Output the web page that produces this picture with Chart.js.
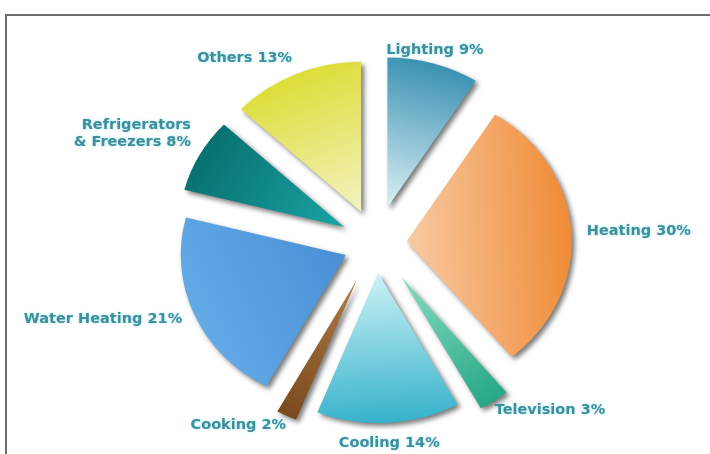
<!DOCTYPE html>
<html>
<head>
<meta charset="utf-8">
<script src="https://cdn.jsdelivr.net/npm/chart.js@4.4.0/dist/chart.umd.min.js"></script>
<style>
  html, body { margin: 0; padding: 0; background: #fff; overflow: hidden; }
  #wrap { position: relative; width: 710px; height: 454px; overflow: hidden; }
  #frame { position: absolute; left: 5px; top: 14px; right: -4px; bottom: -4px;
           border-left: 2px solid #6d6d6d; border-top: 2px solid #6d6d6d; }
  #energyChart { position: absolute; left: 0; top: 0; }
</style>
</head>
<body>
<div id="wrap">
  <div id="frame"></div>
  <canvas id="energyChart" width="710" height="454"></canvas>
</div>
<script>
// slices clockwise from 12 o'clock
const categories = ['Lighting', 'Heating', 'Television', 'Cooling', 'Cooking',
  'Water Heating', ['Refrigerators', '& Freezers'], 'Others'];
const shares = [9, 30, 3, 14, 2, 21, 8, 13];

// gradient colours, near the centre -> at the rim
const innerColors = ['#dcf0f4', '#f9caa2', '#86dcc0', '#cdf2f6', '#b07a48', '#4a8fd6', '#1aa4a4', '#f3f3c2'];
const outerColors = ['#3a91b3', '#ef8b36', '#26a886', '#36b2cb', '#7a4a1e', '#62aae6', '#087070', '#dddd38'];

// how far each slice is pulled out (px)
const explode = [37, 28, 41, 30, 41, 30, 33, 34];

const pieRadius = 150;
const stretchX = 1.1;    // the pie is a bit wider than tall
const labelReach = 1.28; // label distance, in radii

function midAngle(i) {
  const total = shares.reduce((a, b) => a + b, 0);
  let before = 0;
  for (let k = 0; k < i; k++) before += shares[k];
  return -Math.PI / 2 + (before + shares[i] / 2) / total * Math.PI * 2;
}

const explodedPie = {
  id: 'explodedPie',
  beforeDatasetsDraw(chart) {
    const ctx = chart.ctx;
    const area = chart.chartArea;
    const cx = (area.left + area.right) / 2;
    const cy = (area.top + area.bottom) / 2;
    chart.getDatasetMeta(0).data.forEach((arc, i) => {
      const mid = (arc.startAngle + arc.endAngle) / 2;
      ctx.save();
      ctx.translate(cx, cy);
      ctx.scale(stretchX, 1);
      ctx.translate(-cx, -cy);
      ctx.translate(Math.cos(mid) * explode[i], Math.sin(mid) * explode[i]);
      ctx.shadowColor = 'rgba(50,50,50,0.65)';
      ctx.shadowBlur = 5;
      ctx.shadowOffsetX = 3;
      ctx.shadowOffsetY = 3;
      arc.draw(ctx);
      ctx.restore();
    });
    return false;
  },
  afterDraw(chart) {
    const ctx = chart.ctx;
    const area = chart.chartArea;
    const cx = (area.left + area.right) / 2;
    const cy = (area.top + area.bottom) / 2;
    ctx.save();
    ctx.font = 'bold 14.5px "DejaVu Sans", Verdana, sans-serif';
    ctx.fillStyle = '#3f8e9b';
    ctx.shadowColor = 'rgba(120,220,230,0.7)';
    ctx.shadowBlur = 3;
    ctx.textBaseline = 'middle';
    chart.getDatasetMeta(0).data.forEach((arc, i) => {
      const mid = (arc.startAngle + arc.endAngle) / 2;
      const dx = Math.cos(mid), dy = Math.sin(mid);
      const d = arc.outerRadius * labelReach;
      const x = cx + dx * d * stretchX;
      const y = cy + dy * d;
      const lines = [].concat(categories[i]);
      lines[lines.length - 1] += ' ' + shares[i] + '%';
      ctx.textAlign = dx > 0.3 ? 'left' : (dx < -0.3 ? 'right' : 'center');
      const lh = 17;
      const h = lines.length * lh;
      let y0 = y - h / 2;
      if (dy < -0.45) y0 = y - h;
      else if (dy > 0.45) y0 = y;
      lines.forEach((ln, k) => ctx.fillText(ln, x, y0 + lh * (k + 0.5)));
    });
    ctx.restore();
  }
};

new Chart(document.getElementById('energyChart'), {
  type: 'pie',
  data: {
    labels: categories,
    datasets: [{
      data: shares,
      borderWidth: 0,
      backgroundColor: (c) => {
        const chart = c.chart;
        const area = chart.chartArea;
        if (!area) return outerColors[c.dataIndex];
        const cx = (area.left + area.right) / 2;
        const cy = (area.top + area.bottom) / 2;
        const a = midAngle(c.dataIndex);
        const g = chart.ctx.createLinearGradient(cx, cy,
          cx + Math.cos(a) * pieRadius, cy + Math.sin(a) * pieRadius);
        g.addColorStop(0, innerColors[c.dataIndex]);
        g.addColorStop(1, outerColors[c.dataIndex]);
        return g;
      }
    }]
  },
  options: {
    responsive: false,
    animation: false,
    radius: pieRadius,
    layout: { padding: { left: 42, top: 32 } },
    plugins: {
      legend: { display: false },
      tooltip: { enabled: false }
    }
  },
  plugins: [explodedPie]
});
</script>
</body>
</html>
